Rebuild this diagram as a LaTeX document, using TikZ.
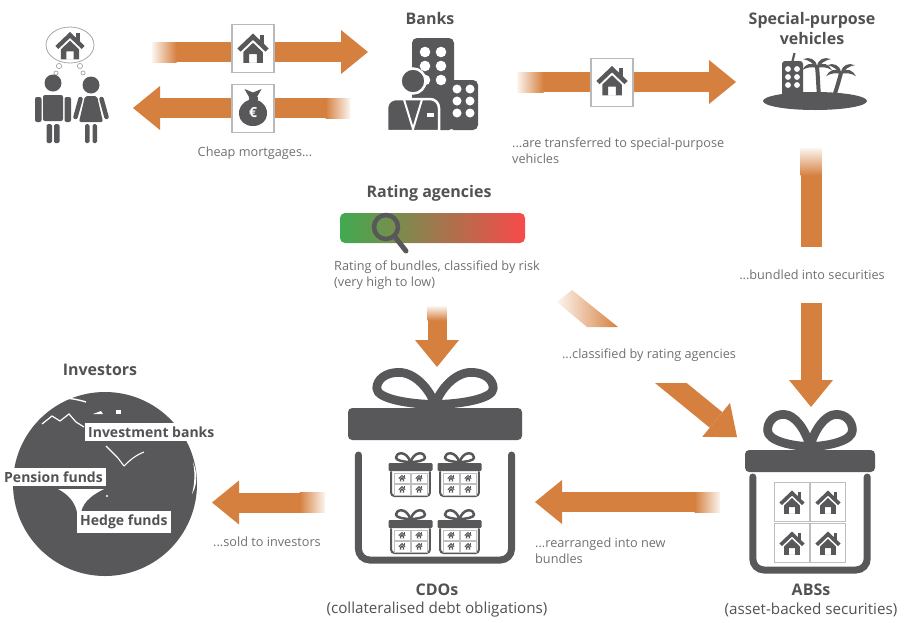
\documentclass[tikz,border=0pt]{standalone}
\usepackage{fontspec}
\setmainfont{Open Sans}
\usepackage{xcolor}
\definecolor{flowor}{RGB}{213,128,63}
\definecolor{icongray}{RGB}{88,88,90}
\definecolor{txtgray}{RGB}{112,112,112}
\definecolor{headgray}{RGB}{82,82,84}
\definecolor{rategreen}{RGB}{64,170,80}
\definecolor{ratemid}{RGB}{148,112,62}
\definecolor{ratered}{RGB}{248,74,74}
\usetikzlibrary{positioning, arrows.meta, calc}

\tikzset{
  % small house glyph, about 21 wide
  pics/house/.style={code={
    \fill (-10.5,0) -- (0,-10) -- (10.5,0) -- (8.3,2.1) -- (0,-5.8) -- (-8.3,2.1) -- cycle;
    \fill (4.6,-9) rectangle (7.2,-3);
    \fill[even odd rule] (-6.5,2.4) -- (0,-3.8) -- (6.5,2.4) -- (6.5,9.5) -- (-6.5,9.5) -- cycle
      (-2.6,3.8) rectangle (2.6,9.5);
  }},
  % gift: half width, bow height, lid height, side top, bottom, stroke
  pics/gift/.style n args={6}{code={
    \pgfmathsetmacro\gw{1.25*#6}
    \pgfmathsetmacro\ga{0.72*#1-\gw/2}
    \pgfmathsetmacro\gb{#2-\gw/2}
    \foreach \s in {-1,1}{
      \draw[line width=\gw pt, line join=round, xscale=\s]
        (0,-0.1*\gb) .. controls (-0.1*\ga,-0.55*\gb) and (-0.35*\ga,-\gb) .. (-0.62*\ga,-\gb)
        .. controls (-0.85*\ga,-\gb) and (-\ga,-0.8*\gb) .. (-\ga,-0.55*\gb)
        .. controls (-\ga,-0.25*\gb) and (-0.4*\ga,-0.1*\gb) .. cycle;
    }
    \fill[rounded corners=0.6*#6pt] (-#1,0) rectangle (#1,#3);
    \draw[line width=#6pt, line cap=round, rounded corners=1.6*#6pt]
      (-0.88*#1,#4) -- (-0.88*#1,#5) -- (0.88*#1,#5) -- (0.88*#1,#4);
  }},
}

\begin{document}
\begin{tikzpicture}[x=1pt, y=-1pt,
    flow/.style={draw=flowor, line width=20pt},
    flowtip/.style={flow, -{Triangle[width=44pt, length=27pt, line width=0pt]}},
    title/.style={font=\fontsize{16}{20}\selectfont\bfseries, text=headgray, align=center},
    sub/.style={font=\fontsize{15.2}{16}\selectfont, text=headgray},
    note/.style={font=\fontsize{12.7}{16}\selectfont, text=txtgray, align=left, inner sep=0pt},
    globelbl/.style={font=\fontsize{14}{15}\selectfont\bfseries, text=headgray, fill=white,
                     inner xsep=3pt, inner ysep=4pt},
    iconbox/.style={draw=gray!55, line width=1.2pt, fill=white, minimum width=42pt,
                    minimum height=48pt, inner sep=0pt},
    cell/.style={draw=gray!50, line width=0.9pt, fill=white},
  ]
  \useasboundingbox (0,0) rectangle (904,622);

  % --- Borrowers ---
  \draw[gray!70, line width=0.8pt] (70,45) ellipse [x radius=24, y radius=18];
  \pic[icongray, scale=1.4] at (70,46) {house};
  \foreach \bx/\by/\br in {59/66/2.6, 56/73/2, 80/66/2.6, 83/73/2}
    \draw[gray!70, line width=0.7pt] (\bx,\by) circle (\br);
  \begin{scope}[icongray]
    \fill (53,83) circle (8.5);
    \fill[rounded corners=2] (43,95) rectangle (63,121);
    \fill[rounded corners=2] (35,97) rectangle (41.5,122);
    \fill[rounded corners=2] (64.5,97) rectangle (71,122);
    \fill[rounded corners=1.5] (46.5,124) rectangle (52,143);
    \fill[rounded corners=1.5] (54,124) rectangle (59.5,143);
    \fill (91,85) circle (8.5);
    \fill[rounded corners=2] (85,96) -- (97,96) -- (103,122) -- (79,122) -- cycle;
    \draw[line width=4.5pt, line cap=round] (80.5,99) -- (75.5,117);
    \draw[line width=4.5pt, line cap=round] (101.5,99) -- (106.5,117);
    \fill[rounded corners=1.5] (85,124) rectangle (89.5,143);
    \fill[rounded corners=1.5] (92.5,124) rectangle (97,143);
  \end{scope}

  % --- Mortgage flows ---
  \coordinate (mortA) at (176,52);
  \coordinate (mortB) at (368,52);
  \draw[flowtip] (mortA) -- (mortB);
  \shade[left color=flowor!8, right color=flowor] (152,42) rectangle (176.5,62);
  \coordinate (cashA) at (326,108);
  \coordinate (cashB) at (133,108);
  \draw[flowtip] (cashA) -- (cashB);
  \shade[left color=flowor, right color=flowor!8] (325.5,98) rectangle (350,118);

  \node[iconbox] (housebox) at (253,48.5) {};
  \pic[icongray, scale=1.5] at (housebox) {house};
  \node[iconbox] (cashbox) at (253,108.5) {};
  \begin{scope}[shift={(253,108)}, icongray]
    \fill (-4,-8) .. controls (-19,-3) and (-17,18) .. (0,18)
      .. controls (17,18) and (19,-3) .. (4,-8) -- cycle;
    \fill (-4.5,-11.5) rectangle (4.5,-8);
    \fill (-4,-11) -- (-8.5,-19) -- (0,-15.5) -- (8.5,-19) -- (4,-11) -- cycle;
    \node[text=white, font=\fontsize{14}{14}\selectfont\bfseries] (euro) at (0,5) {€};
  \end{scope}
  \node[note] (cheap) at (255,153) {Cheap mortgages...};

  % --- Banks ---
  \node[title] (banks) at (430,18) {Banks};
  \fill[icongray, rounded corners=5] (412,38) rectangle (454,130);
  \foreach \dx in {425,441} \foreach \dy in {52,66,80}
    \fill[white] (\dx,\dy) circle (5.3);
  \fill[icongray, rounded corners=5] (449,80) rectangle (478,130);
  \foreach \dx in {457,470} \foreach \dy in {89,101,113}
    \fill[white] (\dx,\dy) circle (4.5);
  \fill[icongray, draw=white, line width=2.5pt] (413,81) circle (12.5);
  \fill[icongray, draw=white, line width=2.5pt] (387,131) [rounded corners=9] -- (387,99) -- (439,99)
    [sharp corners] -- (439,131) -- cycle;
  \draw[white, line width=2pt] (404,99.5) -- (413,129) -- (422,99.5);
  \fill[white] (427,113) rectangle (434,116.5);

  % --- Transfer to SPV ---
  \coordinate (spvA) at (543,82);
  \coordinate (spvB) at (736,82);
  \draw[flowtip] (spvA) -- (spvB);
  \shade[left color=flowor!8, right color=flowor] (517,72) rectangle (543.5,92);
  \node[iconbox] (spvbox) at (612,82.5) {};
  \pic[icongray, scale=1.5] at (612,81) {house};
  \node[note, anchor=west] (transfer) at (512,151) {...are transferred to special-purpose\\vehicles};

  % --- Special-purpose vehicles ---
  \node[title] (spv) at (812,28) {Special-purpose\\vehicles};
  \begin{scope}[icongray]
    \fill (815,101) ellipse [x radius=52, y radius=9];
    \fill[rounded corners=3] (782,61) rectangle (803,96);
    \draw[line width=2.2pt] (792.5,61) -- (794.5,53);
    \draw[line width=4pt] (819,95) .. controls (818,85) and (818,75) .. (817,67);
    \draw[line width=4pt] (834,96) .. controls (837,88) and (839,80) .. (841,73);
    \foreach \px/\py in {817/66, 841/72}
      \foreach \sx in {-1,1}
        \foreach \a in {-12,30}
          \fill[shift={(\px,\py)}, xscale=\sx, rotate=\a]
            (0,0) .. controls (5,-5.5) and (11,-4.5) .. (15.5,1) .. controls (10,-1) and (5,-0.5) .. (0,2) -- cycle;
  \end{scope}
  \foreach \dx in {788,797} \foreach \dy in {69,77,85}
    \fill[white] (\dx,\dy) circle (2.9);

  % --- Bundling into ABS ---
  \coordinate (bunA) at (811,175);
  \coordinate (bunB) at (811,247);
  \draw[flow, line width=21pt] (bunA) -- (bunB);
  \shade[top color=flowor!8, bottom color=flowor] (800.5,148) rectangle (821.5,175.5);
  \node[note] (bundled) at (812,275) {...bundled into securities};
  \coordinate (bunC) at (811,303);
  \coordinate (bunD) at (811,407);
  \draw[flowtip, line width=21pt] (bunC) -- (bunD);

  % --- Rating agencies ---
  \node[title] (rating) at (429,193) {Rating agencies};
  \shade[left color=rategreen, middle color=ratemid, right color=ratered, rounded corners=5]
    (340,213) rectangle (525,243);
  \draw[icongray, line width=4.5pt] (386,227) circle (12);
  \draw[icongray, line width=5pt, line cap=round] (395,237) -- (406,251);
  \node[note, anchor=west] (riskinfo) at (334,275) {Rating of bundles, classified by risk\\(very high to low)};

  \coordinate (rateA) at (437,320);
  \coordinate (rateB) at (437,367);
  \draw[flowtip, line width=19pt] (rateA) -- (rateB);
  \shade[top color=flowor!8, bottom color=flowor] (427.5,306) rectangle (446.5,320.5);

  % --- Classified by rating agencies ---
  \shade[left color=flowor!8, right color=flowor] (557,302) -- (572,290) -- (618,327) -- (587,327) -- cycle;
  \node[note] (classified) at (649,355) {...classified by rating agencies};
  \coordinate (clsA) at (661,375);
  \coordinate (clsB) at (737,437);
  \begin{scope}
    \clip (600,383) rectangle (760,450);
    \draw[flowtip] (clsA) -- (clsB);
  \end{scope}

  % --- ABSs ---
  \begin{scope}[shift={(810,450)}, icongray]
    \pic {gift={65}{40}{22}{27}{120}{7}};
    \foreach \cx in {-18,18} \foreach \cy in {52,93} {
      \draw[cell] (\cx-17.5,\cy-19.5) rectangle (\cx+17.5,\cy+19.5);
      \pic[scale=1.2] at (\cx,\cy+0.5) {house};
    }
  \end{scope}
  \node[title] (abs) at (811,590) {ABSs};
  \node[sub] (abssub) at (811,610) {(asset-backed securities)};

  % --- Rearranged into CDOs ---
  \coordinate (cdoA) at (695,502);
  \coordinate (cdoB) at (535,502);
  \draw[flowtip] (cdoA) -- (cdoB);
  \shade[left color=flowor, right color=flowor!8] (694.5,492) rectangle (720,512);
  \node[note, anchor=west] (rearr) at (535,551) {...rearranged into new\\bundles};

  % --- CDOs ---
  \begin{scope}[shift={(435,408)}, icongray]
    \pic {gift={87}{40}{32}{47}{152}{7}};
    \foreach \gx in {-24.5,24.5} \foreach \gy in {55,112} {
      \begin{scope}[shift={(\gx,\gy)}]
        \pic {gift={22}{11}{8}{9}{33}{2}};
        \foreach \cx in {-8.5,8.5} \foreach \cy in {15.2,26.4} {
          \draw[cell, line width=0.5pt] (\cx-7.8,\cy-5.4) rectangle (\cx+7.8,\cy+5.4);
          \pic[scale=0.34] at (\cx,\cy) {house};
        }
      \end{scope}
    }
  \end{scope}
  \node[title] (cdo) at (437,590) {CDOs};
  \node[sub] (cdosub) at (437,610) {(collateralised debt obligations)};

  % --- Sold to investors ---
  \coordinate (sellA) at (300,502.5);
  \coordinate (sellB) at (212,502.5);
  \draw[flowtip] (sellA) -- (sellB);
  \shade[left color=flowor, right color=flowor!8] (299.5,492.5) rectangle (325,512.5);
  \node[note, anchor=west] (sold) at (213,542) {...sold to investors};

  % --- Investors (globe) ---
  \node[title] (investors) at (100,370) {Investors};
  \fill[icongray] (105,484) circle (92);
  \begin{scope}[white]
    \draw[line width=1.4pt] (36,404) .. controls (52,396) and (70,397) .. (86,402);
    \draw[line width=1.2pt] (42,424) -- (52,416) -- (60,421) -- (69,414) -- (76,422) -- (84,427);
    \fill (93,414) -- (101,411) -- (103,414) -- cycle;
    \fill (116,410) rectangle (121,413.5);
    \draw[line width=1.1pt] (106,446) -- (118,458) -- (124,466);
    \draw[line width=1.1pt] (124,466) .. controls (130,460) and (136,455) .. (144,452);
    \fill (193,462) .. controls (198,474) and (197,486) .. (192,494) .. controls (195,482) and (195,472) .. cycle;
    \fill (20,537) .. controls (15,548) and (17,560) .. (25,569) .. controls (21,558) and (20,548) .. cycle;
    \fill (58,489) -- (104,489) .. controls (94,494) and (84,500) .. (81,512)
      -- (77,512) .. controls (75,502) and (68,494) .. cycle;
    \fill (107,496) circle (1.2);
  \end{scope}
  \node[globelbl, anchor=west] (ibanks) at (85,432) {Investment banks};
  \node[globelbl, anchor=west] (pension) at (1,477) {Pension funds};
  \node[globelbl, anchor=west] (hedge) at (77,522) {Hedge funds};
\end{tikzpicture}
\end{document}
